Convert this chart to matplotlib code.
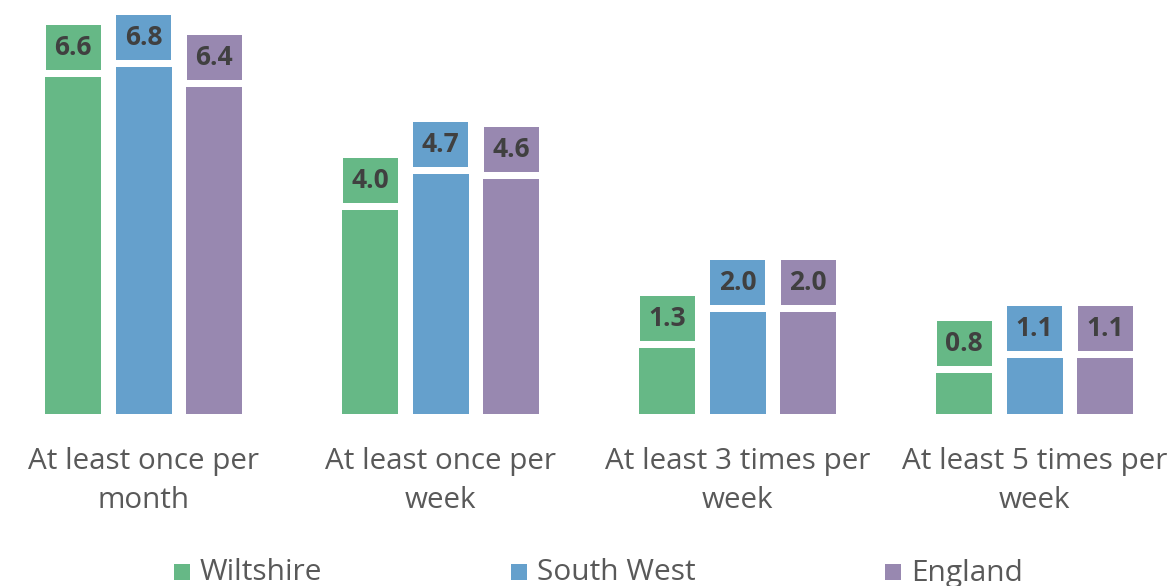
import matplotlib
matplotlib.use("Agg")
import matplotlib.pyplot as plt
from matplotlib.patches import Rectangle
import numpy as np

categories = ["At least once per\nmonth", "At least once per\nweek",
              "At least 3 times per\nweek", "At least 5 times per\nweek"]
series_names = ["Wiltshire", "South West", "England"]
wiltshire = [6.6, 4.0, 1.3, 0.8]
south_west = [6.8, 4.7, 2.0, 1.1]
england = [6.4, 4.6, 2.0, 1.1]
colors = ["#66B886", "#65A0CC", "#9888B0"]

plt.rcParams["font.family"] = ["Open Sans", "DejaVu Sans"]

W, H = 1171, 586
fig = plt.figure(figsize=(W / 100, H / 100), dpi=100)
base_px = 414
ax = fig.add_axes([0, (H - base_px) / H, 1, base_px / H])

px_per_unit = 51.06
ax.set_ylim(0, base_px / px_per_unit)
group_px = 297.0
ax.set_xlim(-143.5 / group_px, (W - 143.5) / group_px)

bar_w = 56 / group_px
step = 70.5 / group_px
gap = 7 / px_per_unit
box_h = 45 / px_per_unit
box_w = 55 / group_px

x = np.arange(len(categories))
for i, (vals, col) in enumerate(zip([wiltshire, south_west, england], colors)):
    xs = x + (i - 1) * step
    ax.bar(xs, vals, width=bar_w, color=col, linewidth=0)
    for xi, v in zip(xs, vals):
        ax.add_patch(Rectangle((xi - box_w / 2, v + gap), box_w, box_h,
                               facecolor=col, edgecolor="none"))
        ax.text(xi, v + gap + box_h / 2, f"{v:.1f}", ha="center", va="center",
                fontsize=19, fontweight="bold", color="#404040")

ax.axis("off")

# category labels under each group
for xi, lab in zip(x, categories):
    ax.text(xi, -(33 / px_per_unit), lab, ha="center", va="top",
            fontsize=21.3, color="#595959", linespacing=1.45)

# legend row
legend_px = [(174, "Wiltshire"), (511, "South West"), (885, "England")]
for (lx, name), col in zip(legend_px, colors):
    sq = 16
    fig.patches.append(Rectangle((lx / W, (H - 580) / H), sq / W, sq / H,
                                 transform=fig.transFigure, facecolor=col,
                                 edgecolor="none"))
    fig.text((lx + 26) / W, (H - 573) / H, name, ha="left", va="center",
             fontsize=21.5, color="#595959")

fig.savefig("out.png", dpi=100)
